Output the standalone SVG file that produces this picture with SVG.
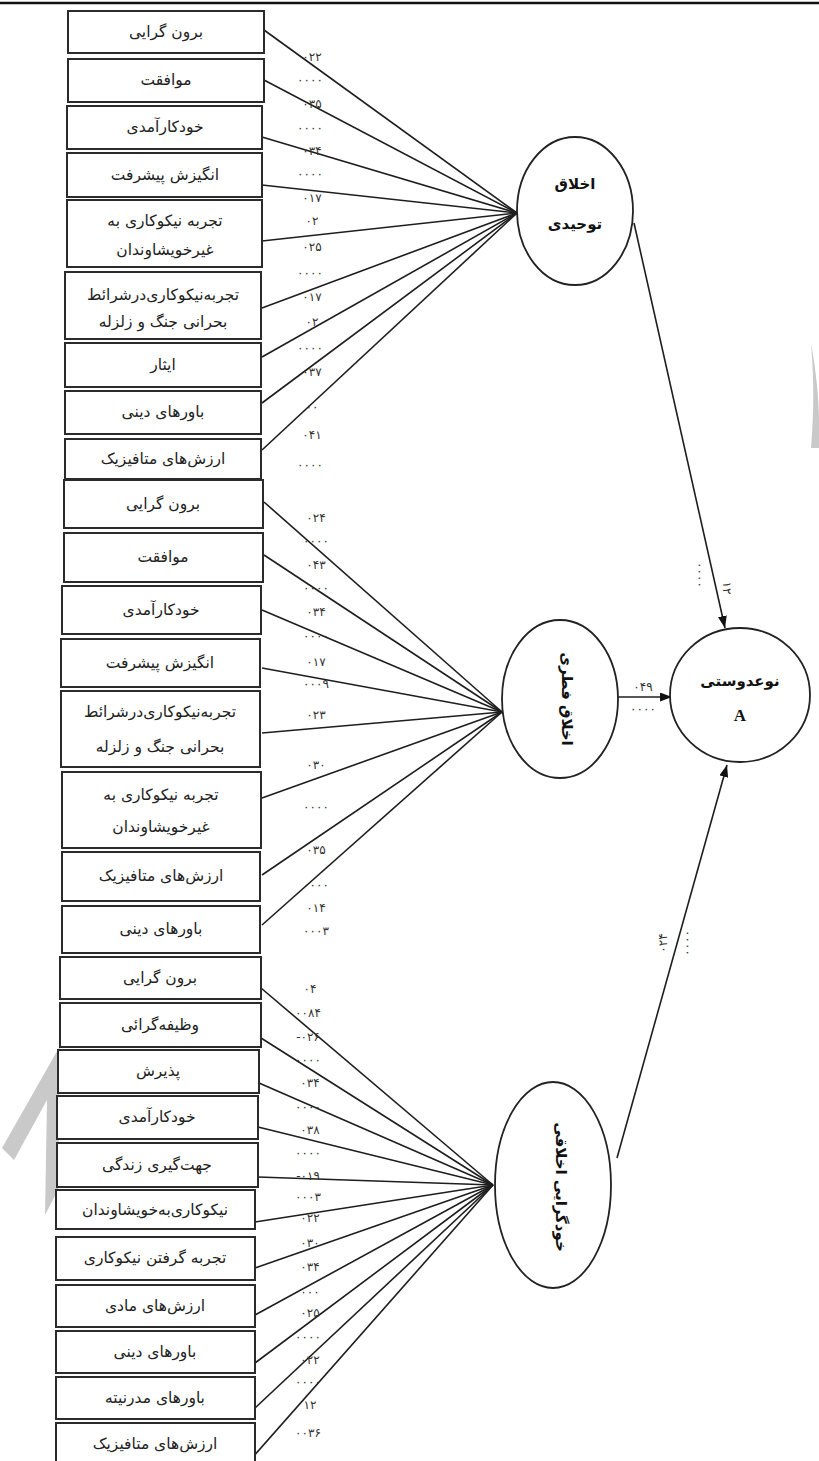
<svg xmlns="http://www.w3.org/2000/svg" width="819" height="1461" viewBox="0 0 819 1461">
<style>
.box{fill:#fff;stroke:#2b2b2b;stroke-width:2}
.ell{fill:#fff;stroke:#222;stroke-width:1.8}
.t{font-family:'DejaVu Sans','Noto Sans',sans-serif;font-size:15.5px;fill:#222;text-anchor:middle}
.tb{font-family:'DejaVu Sans','Noto Sans',sans-serif;font-size:15px;font-weight:bold;fill:#111;text-anchor:middle}
.n{font-family:'DejaVu Sans','Noto Sans',sans-serif;font-size:12px;fill:#333;text-anchor:middle}
.ln{stroke:#1e1e1e;stroke-width:1.6;fill:none}
.wm{fill:#c9c9c9;stroke:none}
</style>
<defs>
<marker id="ah" viewBox="0 0 12 9" markerWidth="12" markerHeight="9" refX="12" refY="4.5" orient="auto" markerUnits="userSpaceOnUse">
<path d="M0,0 L12,4.5 L0,9 z" fill="#111"/>
</marker>
</defs>
<rect width="819" height="1461" fill="#fff"/>
<line x1="0" y1="3" x2="819" y2="3" stroke="#111" stroke-width="2.5"/>

<g id="watermark">
<path class="wm" d="M811,343 C816,370 819,400 819,420 L819,448 L811,448 C814,410 814,380 811,343 z"/>
<path class="wm" d="M60,1046 L2,1148 L14,1160 L47,1100 L45,1215 L58,1190 L60,1046 z"/>
</g>

<g id="connectors">
<line class="ln" x1="264" y1="30" x2="517" y2="213"/>
<line class="ln" x1="264" y1="80" x2="517" y2="213"/>
<line class="ln" x1="262" y1="137" x2="517" y2="213"/>
<line class="ln" x1="262" y1="185" x2="517" y2="213"/>
<line class="ln" x1="262" y1="241" x2="517" y2="213"/>
<line class="ln" x1="262" y1="308" x2="517" y2="213"/>
<line class="ln" x1="262" y1="357" x2="517" y2="213"/>
<line class="ln" x1="262" y1="403" x2="517" y2="213"/>
<line class="ln" x1="262" y1="450" x2="517" y2="213"/>

<line class="ln" x1="264" y1="502" x2="502" y2="712"/>
<line class="ln" x1="264" y1="555" x2="502" y2="712"/>
<line class="ln" x1="262" y1="610" x2="502" y2="712"/>
<line class="ln" x1="262" y1="668" x2="502" y2="712"/>
<line class="ln" x1="262" y1="733" x2="502" y2="712"/>
<line class="ln" x1="262" y1="798" x2="502" y2="712"/>
<line class="ln" x1="262" y1="875" x2="502" y2="712"/>
<line class="ln" x1="262" y1="925" x2="502" y2="712"/>

<line class="ln" x1="261" y1="988" x2="493" y2="1185"/>
<line class="ln" x1="261" y1="1038" x2="493" y2="1185"/>
<line class="ln" x1="259" y1="1083" x2="493" y2="1185"/>
<line class="ln" x1="258" y1="1127" x2="493" y2="1185"/>
<line class="ln" x1="258" y1="1177" x2="493" y2="1185"/>
<line class="ln" x1="255" y1="1222" x2="493" y2="1185"/>
<line class="ln" x1="255" y1="1268" x2="493" y2="1185"/>
<line class="ln" x1="255" y1="1315" x2="493" y2="1185"/>
<line class="ln" x1="255" y1="1363" x2="493" y2="1185"/>
<line class="ln" x1="255" y1="1408" x2="493" y2="1185"/>
<line class="ln" x1="252" y1="1458" x2="493" y2="1185"/>

<line class="ln" x1="634" y1="223" x2="725" y2="628" marker-end="url(#ah)"/>
<line class="ln" x1="618" y1="697" x2="672" y2="697" marker-end="url(#ah)"/>
<line class="ln" x1="617" y1="1158" x2="727" y2="765" marker-end="url(#ah)"/>
</g>

<g id="labels">
<text class="n" x="312" y="61">۰۲۲</text>
<text class="n" x="310" y="84">۰۰۰۰</text>
<text class="n" x="312" y="108">۰۳۵</text>
<text class="n" x="310" y="132">۰۰۰۰</text>
<text class="n" x="312" y="155">۰۳۴</text>
<text class="n" x="310" y="178">۰۰۰۰</text>
<text class="n" x="312" y="202">۰۱۷</text>
<text class="n" x="312" y="225">۰۲</text>
<text class="n" x="312" y="251">۰۲۵</text>
<text class="n" x="310" y="277">۰۰۰۰</text>
<text class="n" x="312" y="301">۰۱۷</text>
<text class="n" x="312" y="326">۰۲</text>
<text class="n" x="310" y="352">۰۰۰۰</text>
<text class="n" x="312" y="376">۰۳۷</text>
<text class="n" x="312" y="411">۰۰</text>
<text class="n" x="312" y="439">۰۴۱</text>
<text class="n" x="310" y="469">۰۰۰۰</text>

<text class="n" x="316" y="522">۰۲۴</text>
<text class="n" x="316" y="545">۰۰۰۰</text>
<text class="n" x="316" y="569">۰۴۳</text>
<text class="n" x="316" y="592">۰۰۰۰</text>
<text class="n" x="316" y="616">۰۳۴</text>
<text class="n" x="316" y="640">۰۰۰۰</text>
<text class="n" x="316" y="666">۰۱۷</text>
<text class="n" x="316" y="688">۰۰۰۹</text>
<text class="n" x="316" y="719">۰۲۳</text>
<text class="n" x="316" y="769">۰۳۰</text>
<text class="n" x="316" y="811">۰۰۰۰</text>
<text class="n" x="316" y="854">۰۳۵</text>
<text class="n" x="316" y="889">۰۰۰۰</text>
<text class="n" x="316" y="912">۰۱۴</text>
<text class="n" x="316" y="935">۰۰۰۳</text>

<text class="n" x="310" y="993">۰۴</text>
<text class="n" x="308" y="1017">۰۰۸۴</text>
<text class="n" x="308" y="1041">-۰۲۶</text>
<text class="n" x="308" y="1064">۰۰۰۰</text>
<text class="n" x="310" y="1087">۰۳۴</text>
<text class="n" x="308" y="1111">۰۰۰۰</text>
<text class="n" x="310" y="1134">۰۳۸</text>
<text class="n" x="308" y="1157">۰۰۰۰</text>
<text class="n" x="308" y="1180">-۰۱۹</text>
<text class="n" x="308" y="1201">۰۰۰۳</text>
<text class="n" x="310" y="1222">۰۲۲</text>
<text class="n" x="310" y="1247">۰۳۰</text>
<text class="n" x="310" y="1271">۰۳۴</text>
<text class="n" x="310" y="1296">۰۰۰</text>
<text class="n" x="310" y="1317">۰۲۵</text>
<text class="n" x="308" y="1341">۰۰۰۰</text>
<text class="n" x="310" y="1364">۰۲۲</text>
<text class="n" x="308" y="1386">۰۰۰۰</text>
<text class="n" x="310" y="1409">۱۲</text>
<text class="n" x="308" y="1437">۰۰۳۶</text>

<text class="n" x="643" y="691">۰۴۹</text>
<text class="n" x="643" y="713">۰۰۰۰</text>
<text class="n" transform="translate(700,575) rotate(90)" y="4">۰۰۰۰</text>
<text class="n" transform="translate(727,588) rotate(90)" y="4">۱۲</text>
<text class="n" transform="translate(663,943) rotate(-90)" y="4">۰۲۴</text>
<text class="n" transform="translate(688,943) rotate(90)" y="4">۰۰۰۰</text>
</g>

<g id="g1-1"><rect class="box" x="68" y="11" width="196" height="42"/><text class="t" x="166" y="37">برون گرایی</text></g>
<g id="g1-2"><rect class="box" x="68" y="59" width="196" height="43"/><text class="t" x="166" y="85">موافقت</text></g>
<g id="g1-3"><rect class="box" x="67" y="106" width="195" height="43"/><text class="t" x="165" y="132">خودکارآمدی</text></g>
<g id="g1-4"><rect class="box" x="67" y="153" width="195" height="44"/><text class="t" x="165" y="180">انگیزش پیشرفت</text></g>
<g id="g1-5"><rect class="box" x="67" y="200" width="195" height="67"/><text class="t" x="165" y="226">تجربه نیکوکاری به</text><text class="t" x="165" y="255">غیرخویشاوندان</text></g>
<g id="g1-6"><rect class="box" x="65" y="272" width="196" height="67"/><text class="t" x="163" y="300">تجربه‌نیکوکاری‌درشرائط</text><text class="t" x="163" y="327">بحرانی جنگ و زلزله</text></g>
<g id="g1-7"><rect class="box" x="65" y="343" width="196" height="44"/><text class="t" x="163" y="370">ایثار</text></g>
<g id="g1-8"><rect class="box" x="65" y="391" width="196" height="43"/><text class="t" x="163" y="417">باورهای دینی</text></g>
<g id="g1-9"><rect class="box" x="65" y="439" width="196" height="40"/><text class="t" x="163" y="464">ارزش‌های متافیزیک</text></g>

<g id="g2-1"><rect class="box" x="64" y="480" width="199" height="48"/><text class="t" x="163" y="509">برون گرایی</text></g>
<g id="g2-2"><rect class="box" x="64" y="533" width="199" height="49"/><text class="t" x="163" y="562">موافقت</text></g>
<g id="g2-3"><rect class="box" x="62" y="586" width="199" height="48"/><text class="t" x="161" y="615">خودکارآمدی</text></g>
<g id="g2-4"><rect class="box" x="61" y="639" width="199" height="48"/><text class="t" x="160" y="668">انگیزش پیشرفت</text></g>
<g id="g2-5"><rect class="box" x="61" y="691" width="199" height="76"/><text class="t" x="160" y="717">تجربه‌نیکوکاری‌درشرائط</text><text class="t" x="160" y="752">بحرانی جنگ و زلزله</text></g>
<g id="g2-6"><rect class="box" x="62" y="772" width="199" height="76"/><text class="t" x="161" y="800">تجربه نیکوکاری به</text><text class="t" x="161" y="832">غیرخویشاوندان</text></g>
<g id="g2-7"><rect class="box" x="62" y="852" width="198" height="49"/><text class="t" x="161" y="881">ارزش‌های متافیزیک</text></g>
<g id="g2-8"><rect class="box" x="62" y="906" width="198" height="47"/><text class="t" x="161" y="934">باورهای دینی</text></g>

<g id="g3-1"><rect class="box" x="60" y="957" width="201" height="42"/><text class="t" x="160" y="983">برون گرایی</text></g>
<g id="g3-2"><rect class="box" x="60" y="1003" width="201" height="44"/><text class="t" x="160" y="1030">وظیفه‌گرائی</text></g>
<g id="g3-3"><rect class="box" x="58" y="1050" width="201" height="43"/><text class="t" x="158" y="1076">پذیرش</text></g>
<g id="g3-4"><rect class="box" x="57" y="1096" width="201" height="43"/><text class="t" x="157" y="1122">خودکارآمدی</text></g>
<g id="g3-5"><rect class="box" x="57" y="1143" width="201" height="44"/><text class="t" x="157" y="1170">جهت‌گیری زندگی</text></g>
<g id="g3-6"><rect class="box" x="56" y="1190" width="199" height="39"/><text class="t" x="155" y="1215">نیکوکاری‌به‌خویشاوندان</text></g>
<g id="g3-7"><rect class="box" x="56" y="1237" width="199" height="43"/><text class="t" x="155" y="1263">تجربه گرفتن نیکوکاری</text></g>
<g id="g3-8"><rect class="box" x="56" y="1285" width="199" height="42"/><text class="t" x="155" y="1311">ارزش‌های مادی</text></g>
<g id="g3-9"><rect class="box" x="56" y="1331" width="199" height="42"/><text class="t" x="155" y="1357">باورهای دینی</text></g>
<g id="g3-10"><rect class="box" x="56" y="1377" width="199" height="42"/><text class="t" x="155" y="1403">باورهای مدرنیته</text></g>
<g id="g3-11"><rect class="box" x="56" y="1423" width="199" height="45"/><text class="t" x="155" y="1449">ارزش‌های متافیزیک</text></g>

<g id="e1"><ellipse class="ell" cx="575" cy="211" rx="58" ry="74"/><text class="tb" x="575" y="189">اخلاق</text><text class="tb" x="575" y="229">توحیدی</text></g>
<g id="e2"><ellipse class="ell" cx="560" cy="699" rx="58" ry="79"/><text class="tb" transform="translate(567,699) rotate(90)" y="5">اخلاق فطری</text></g>
<g id="e3"><ellipse class="ell" cx="553" cy="1185" rx="58" ry="103"/><text class="tb" transform="translate(561,1187) rotate(90)" y="5">خودگرایی اخلاقی</text></g>
<g id="a"><ellipse class="ell" cx="740" cy="695" rx="70" ry="67"/><text class="tb" x="740" y="686">نوعدوستی</text><text class="tb" x="740" y="721" style="font-family:'Liberation Serif',serif;font-size:17px">A</text></g>
</svg>
